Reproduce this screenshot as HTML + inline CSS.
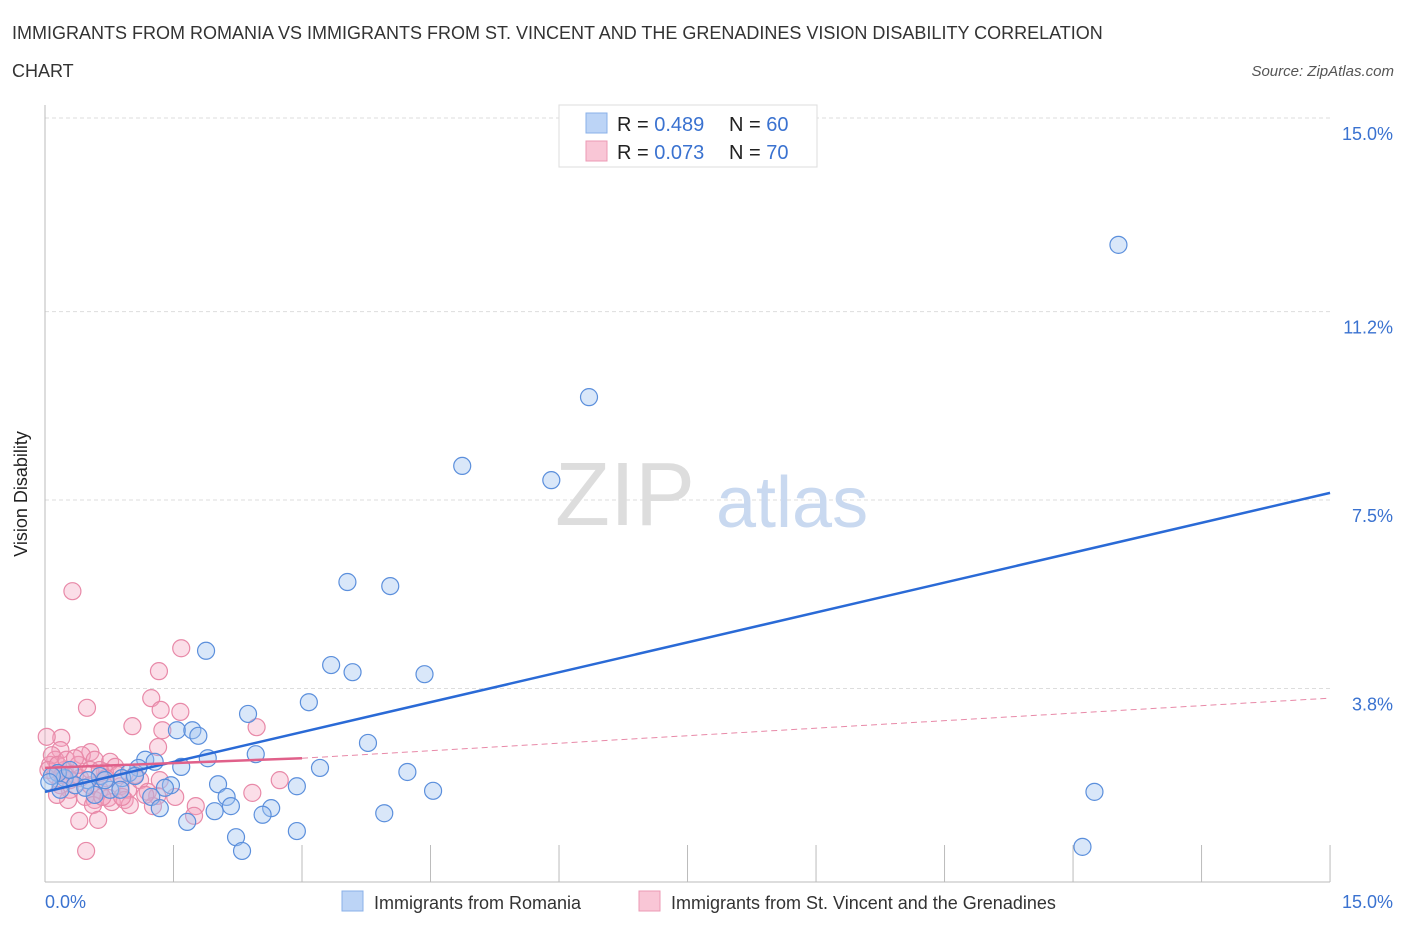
<!DOCTYPE html>
<html><head><meta charset="utf-8"><style>
body{margin:0;background:#fff;font-family:"Liberation Sans",sans-serif;}
svg text{font-family:"Liberation Sans",sans-serif;}
</style></head><body>
<svg width="1406" height="930" xmlns="http://www.w3.org/2000/svg">
<text x="12" y="39" font-size="18" fill="#333">IMMIGRANTS FROM ROMANIA VS IMMIGRANTS FROM ST. VINCENT AND THE GRENADINES VISION DISABILITY CORRELATION</text>
<text x="12" y="77" font-size="18" fill="#333">CHART</text>
<text x="1394" y="76" font-size="15" fill="#555" font-style="italic" text-anchor="end">Source: ZipAtlas.com</text>
<g id="grid"></g>
<text x="555" y="525" font-size="90" fill="#ddd" font-family="Liberation Serif">ZIP</text>
<text x="716" y="527" font-size="72" fill="#c9d9f0">atlas</text>
<line x1="45" y1="105" x2="45" y2="882" stroke="#bbb"/>
<line x1="45" y1="882" x2="1330" y2="882" stroke="#bbb"/>
<g id="ticks"></g>
<g id="pts"></g>
<g id="lines"></g>
<text x="27" y="494" font-size="18" fill="#222" text-anchor="middle" transform="rotate(-90 27 494)">Vision Disability</text>
<text x="45" y="908" font-size="18" fill="#3a72d0">0.0%</text>
<text x="1393" y="908" font-size="18" fill="#3a72d0" text-anchor="end">15.0%</text>
<g>
<rect x="559" y="105" width="258" height="62" fill="#fff" stroke="#ddd"/>
<rect x="586" y="113" width="21" height="20" fill="#bcd4f6" stroke="#8ab0e8"/>
<rect x="586" y="141" width="21" height="20" fill="#f9c6d6" stroke="#ec9ab4"/>
<text x="617" y="131" font-size="20" fill="#222">R = <tspan fill="#3a72d0">0.489</tspan><tspan x="729">N = </tspan><tspan fill="#3a72d0">60</tspan></text>
<text x="617" y="159" font-size="20" fill="#222">R = <tspan fill="#3a72d0">0.073</tspan><tspan x="729">N = </tspan><tspan fill="#3a72d0">70</tspan></text>
</g>
<g>
<rect x="342" y="891" width="21" height="20" fill="#bcd4f6" stroke="#8ab0e8"/>
<text x="374" y="909" font-size="18" fill="#333">Immigrants from Romania</text>
<rect x="639" y="891" width="21" height="20" fill="#f9c6d6" stroke="#ec9ab4"/>
<text x="671" y="909" font-size="18" fill="#333">Immigrants from St. Vincent and the Grenadines</text>
</g>
</svg>
<script>
const yTicks=[15.0,11.2,7.5,3.8];
const yTickLabels=["15.0%","11.2%","7.5%","3.8%"];
const xTicks=[0,1.5,3,4.5,6,7.5,9,10.5,12,13.5,15];
const blueX=[12.53,6.35,4.87,5.91,3.53,4.03,1.88,3.34,3.59,4.43,2.37,3.08,1.54,1.72,1.79,3.77,2.46,1.9,1.59,3.21,4.23,1.17,1.28,1.09,0.98,0.9,0.64,0.5,0.23,0.15,0.08,2.02,2.94,1.47,1.4,4.53,12.25,1.24,2.12,2.17,1.98,2.64,2.54,1.34,1.66,3.96,2.94,2.23,2.3,12.11,0.35,0.76,0.58,0.29,0.18,0.88,0.47,0.7,1.05,0.05];
const blueY=[12.51,9.52,8.17,7.89,5.89,5.81,4.54,4.26,4.12,4.08,3.30,3.53,2.98,2.98,2.87,2.73,2.51,2.43,2.26,2.24,2.16,2.40,2.36,2.24,2.14,2.04,2.08,2.00,2.04,2.14,2.08,1.92,1.88,1.90,1.85,1.79,1.77,1.67,1.67,1.49,1.39,1.45,1.32,1.45,1.18,1.35,1.00,0.88,0.61,0.69,1.90,1.81,1.71,2.20,1.81,1.81,1.85,2.00,2.08,1.96];
const pinkX=[0.32,1.59,1.33,0.49,1.24,1.58,1.35,1.02,1.37,2.47,0.19,0.02,1.32,0.53,0.43,0.58,0.76,0.82,0.7,0.18,0.12,0.06,0.23,0.35,0.41,0.64,0.88,0.97,1.11,0.29,0.18,0.47,0.58,0.74,0.56,0.78,0.93,0.99,1.2,1.31,1.52,1.26,1.76,1.74,0.62,0.4,0.48,2.74,2.42,0.12,0.08,0.04,0.15,0.25,0.39,0.53,0.29,0.2,0.35,0.64,0.85,1.05,1.17,1.34,0.53,0.67,0.9,0.27,0.14,0.71];
const pinkY=[5.71,4.59,4.14,3.42,3.61,3.34,3.38,3.06,2.98,3.04,2.83,2.85,2.65,2.55,2.49,2.40,2.36,2.26,2.16,2.59,2.40,2.30,2.20,2.10,2.04,1.81,1.88,1.81,2.00,1.81,1.90,1.67,1.61,1.65,1.51,1.57,1.61,1.51,1.77,1.69,1.67,1.49,1.49,1.30,1.22,1.20,0.61,2.00,1.75,2.10,2.49,2.20,2.30,2.40,2.30,2.20,2.00,2.10,2.43,2.20,2.10,2.10,1.71,2.00,1.90,1.67,1.67,1.61,1.71,2.04];
const blueTrend=[[0,1.77],[15,7.64]];
const pinkTrend=[[0,2.24],[3,2.43],[15,3.61]];
const NS="http://www.w3.org/2000/svg";
const sx=v=>45+v*85.67, sy=v=>882-v*50.93;
function mk(tag,attrs,parent){const e=document.createElementNS(NS,tag);for(const k in attrs)e.setAttribute(k,attrs[k]);document.getElementById(parent).appendChild(e);return e;}
yTicks.forEach((t,i)=>{
 const l=mk('line',{x1:45,x2:1330,y1:sy(t),y2:sy(t),stroke:'#ddd','stroke-dasharray':'4,3'},'grid');
 
 
 const tx=mk('text',{x:1393,y:sy(t)+22,'font-size':18,fill:'#3a72d0','text-anchor':'end'},'grid');
 tx.textContent=yTickLabels[i];
 
 
});
xTicks.forEach(t=>{
 const l=mk('line',{x1:sx(t),x2:sx(t),y1:882,y2:845,stroke:'#bbb'},'ticks');
 
 
});
pinkX.forEach((x,i)=>{
 const c=mk('circle',{cx:sx(x),cy:sy(pinkY[i]),r:8.5,fill:'rgba(244,160,188,0.35)',stroke:'#e889a8','stroke-width':1.2},'pts');
 
 
});
blueX.forEach((x,i)=>{
 const c=mk('circle',{cx:sx(x),cy:sy(blueY[i]),r:8.5,fill:'rgba(160,196,240,0.4)',stroke:'#5b8fdc','stroke-width':1.2},'pts');
 
 
});
const bl=mk('line',{x1:sx(blueTrend[0][0]),y1:sy(blueTrend[0][1]),x2:sx(blueTrend[1][0]),y2:sy(blueTrend[1][1]),stroke:'#2a6ad6','stroke-width':2.5},'lines');


const pl=mk('line',{x1:sx(pinkTrend[0][0]),y1:sy(pinkTrend[0][1]),x2:sx(pinkTrend[1][0]),y2:sy(pinkTrend[1][1]),stroke:'#e0608a','stroke-width':2.5},'lines');


const pd=mk('line',{x1:sx(pinkTrend[1][0]),y1:sy(pinkTrend[1][1]),x2:sx(pinkTrend[2][0]),y2:sy(pinkTrend[2][1]),stroke:'#e889a8','stroke-width':1,'stroke-dasharray':'6,4'},'lines');


</script>
</body></html>
